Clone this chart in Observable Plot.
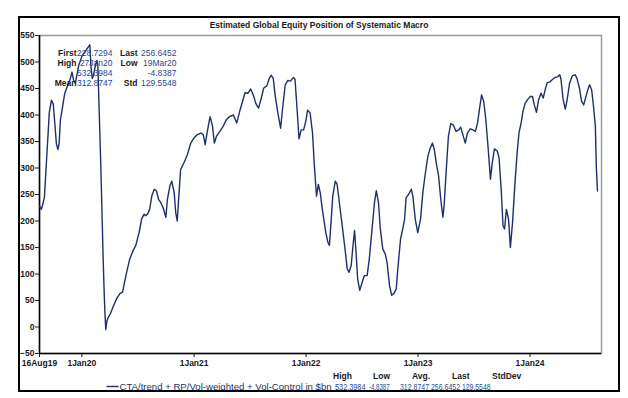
<!DOCTYPE html>
<html><head><meta charset="utf-8">
<script src="https://cdn.jsdelivr.net/npm/d3@7"></script>
<script src="https://cdn.jsdelivr.net/npm/@observablehq/plot@0.6"></script>
<style>
html,body{margin:0;padding:0;background:#fff;}
#wrap{position:relative;width:628px;height:398px;overflow:hidden;font-family:"Liberation Sans",Arial,sans-serif;}
#wrap svg{position:absolute;left:0;top:0;}
#frame{position:absolute;left:18px;top:16px;width:602px;height:376px;border:2px solid #000;box-sizing:border-box;pointer-events:none;}
</style>
</head><body>
<div id="wrap"><div id="frame"></div></div>
<script>
const title = "Estimated Global Equity Position of Systematic Macro";
const seriesName = "CTA/trend + RP/Vol-weighted + Vol-Control in $bn";

const dates = [
"2019-08-16","2019-08-22","2019-08-27","2019-09-01","2019-09-08","2019-09-17","2019-09-24","2019-09-30","2019-10-05","2019-10-10",
"2019-10-15","2019-10-19","2019-10-23","2019-10-30","2019-11-06","2019-11-14","2019-11-23","2019-11-30","2019-12-05","2019-12-11",
"2019-12-22","2020-01-02","2020-01-13","2020-01-27","2020-01-31","2020-02-04","2020-02-08","2020-02-13","2020-02-19","2020-02-22",
"2020-02-24","2020-02-28","2020-03-03","2020-03-07","2020-03-10","2020-03-13","2020-03-16","2020-03-19","2020-03-23","2020-03-27",
"2020-04-03","2020-04-12","2020-04-23","2020-05-04","2020-05-13","2020-05-17","2020-05-26","2020-06-05","2020-06-16","2020-06-25",
"2020-07-06","2020-07-14","2020-07-22","2020-07-27","2020-08-02","2020-08-09","2020-08-16","2020-08-24","2020-08-31","2020-09-07",
"2020-09-14","2020-09-22","2020-10-01","2020-10-06","2020-10-14","2020-10-20","2020-10-28","2020-11-02","2020-11-07","2020-11-13",
"2020-11-18","2020-11-29","2020-12-10","2020-12-21","2021-01-01","2021-01-12","2021-01-23","2021-01-31","2021-02-06","2021-02-14",
"2021-02-22","2021-03-02","2021-03-08","2021-03-15","2021-03-26","2021-04-06","2021-04-16","2021-04-27","2021-05-09","2021-05-20",
"2021-05-31","2021-06-11","2021-06-16","2021-06-25","2021-07-04","2021-07-13","2021-07-21","2021-07-30","2021-08-08","2021-08-16",
"2021-08-26","2021-09-03","2021-09-09","2021-09-16","2021-09-22","2021-10-01","2021-10-10","2021-10-16","2021-10-25","2021-11-02",
"2021-11-11","2021-11-21","2021-11-26","2021-12-02","2021-12-09","2021-12-16","2021-12-24","2021-12-31","2022-01-06","2022-01-14",
"2022-01-22","2022-01-28","2022-02-04","2022-02-10","2022-02-16","2022-02-23","2022-03-06","2022-03-13","2022-03-18","2022-03-24",
"2022-03-29","2022-04-06","2022-04-12","2022-04-20","2022-04-30","2022-05-08","2022-05-15","2022-05-21","2022-05-28","2022-06-03",
"2022-06-08","2022-06-13","2022-06-18","2022-06-25","2022-07-01","2022-07-10","2022-07-19","2022-07-26","2022-08-03","2022-08-12",
"2022-08-18","2022-08-25","2022-08-31","2022-09-08","2022-09-16","2022-09-22","2022-09-30","2022-10-07","2022-10-14","2022-10-22",
"2022-10-27","2022-11-05","2022-11-12","2022-11-18","2022-11-23","2022-12-01","2022-12-10","2022-12-15","2022-12-23","2022-12-31",
"2023-01-09","2023-01-17","2023-01-25","2023-02-02","2023-02-10","2023-02-17","2023-02-23","2023-03-02","2023-03-09","2023-03-16",
"2023-03-23","2023-03-27","2023-04-03","2023-04-10","2023-04-18","2023-04-26","2023-05-05","2023-05-14","2023-05-20","2023-05-27",
"2023-06-04","2023-06-11","2023-06-20","2023-06-29","2023-07-07","2023-07-14","2023-07-20","2023-07-27","2023-08-03","2023-08-10",
"2023-08-17","2023-08-25","2023-08-31","2023-09-07","2023-09-16","2023-09-22","2023-09-29","2023-10-05","2023-10-10","2023-10-16",
"2023-10-23","2023-10-29","2023-11-05","2023-11-13","2023-11-20","2023-11-26","2023-12-03","2023-12-09","2023-12-16","2023-12-24",
"2024-01-02","2024-01-09","2024-01-15","2024-01-22","2024-01-29","2024-02-06","2024-02-13","2024-02-19","2024-02-26","2024-03-05",
"2024-03-14","2024-03-23","2024-03-31","2024-04-07","2024-04-11","2024-04-18","2024-04-25","2024-05-01","2024-05-09","2024-05-18",
"2024-05-27","2024-06-02","2024-06-10","2024-06-17","2024-06-24","2024-06-30","2024-07-07","2024-07-13","2024-07-20","2024-07-26",
"2024-08-01","2024-08-04","2024-08-06","2024-08-08"
];
const values = [
228.7,222,232,245,315,405,428,420,384,346,
335,346,390,415,440,453,466,481,466,460,
494,512,521,532.4,490,469,475,490,503,495,
460,380,300,210,140,80,30,-4.8,12,18,
25,38,53,63,66,78,103,128,144,154,
179,204,213,210,213,222,247,260,257,241,
235,225,207,241,266,275,254,216,200,254,
297,310,325,347,357,363,366,363,344,372,
397,379,347,360,369,379,391,397,400,385,
410,432,442,441,449,438,422,413,432,451,
455,469,475,469,438,404,375,410,457,465,
464,471,467,416,355,372,372,388,409,404,
366,304,247,269,254,222,179,160,154,203,
247,275,270,232,185,147,110,103,116,154,
182,141,91,69,81,97,97,128,178,235,
257,235,185,147,138,122,78,60,63,72,
110,166,185,203,244,250,260,247,203,178,
203,256,291,322,338,347,335,307,285,241,
207,229,297,360,384,381,369,372,377,363,
347,366,374,372,369,385,410,438,426,391,
341,279,310,336,332,319,260,191,185,222,
203,150,197,272,329,366,385,407,422,429,
435,435,419,405,429,441,432,447,461,462,
467,471,472,476,467,429,411,429,460,474,
476,469,451,426,419,432,447,457,447,416,
379,304,279,256.6
];

const xStart = "2019-08-16", xEnd = "2024-08-21";
const xTicks = ["2019-08-16","2020-01-01","2021-01-01","2022-01-01","2023-01-01","2024-01-01"];
const xTickLabels = ["16Aug19","1Jan20","1Jan21","1Jan22","1Jan23","1Jan24"];
const yTicks = [-50,0,50,100,150,200,250,300,350,400,450,500,550];

const statsLeftLabels = ["First","High","","Mean"];
const statsLeftValues = ["228.7294","27Jan20","532.3984","312.8747"];
const statsRightLabels = ["Last","Low","","Std"];
const statsRightValues = ["256.6452","19Mar20","-4.8387","129.5548"];

const legendHeaders = ["High","Low","Avg.","Last","StdDev"];
const legendValues = ["532.3984","-4.8387","312.8747","256.6452","129.5548"];

const lineColor = "#1e2f6c";
const valueColor = "#2c4794";
const textColor = "#1a1a1a";

const data = dates.map((d, i) => ({date: new Date(d), value: values[i]}));
const labelByTime = new Map(xTicks.map((d, i) => [+new Date(d), xTickLabels[i]]));

const chart = Plot.plot({
  width: 628, height: 398,
  marginLeft: 39, marginRight: 27, marginTop: 35, marginBottom: 45,
  style: {fontFamily: "'Liberation Sans', Arial, sans-serif", fontSize: "8.5px", fontWeight: "bold", color: textColor, background: "transparent", overflow: "visible"},
  x: {type: "utc", domain: [new Date(xStart), new Date(xEnd)], ticks: xTicks.map(d => new Date(d)), tickFormat: d => labelByTime.get(+d), tickSize: 4, tickPadding: 2.5, label: null},
  y: {domain: [-50, 550], ticks: yTicks, tickSize: 4, tickPadding: 1, label: null},
  marks: [
    Plot.frame({stroke: "#9a9a9a", strokeWidth: 1.5}),
    Plot.ruleX([new Date(xStart)], {stroke: "#000", strokeWidth: 1.5}),
    Plot.ruleY([-50], {stroke: "#000", strokeWidth: 1.5}),
    Plot.lineY(data, {x: "date", y: "value", stroke: lineColor, strokeWidth: 1.4})
  ]
});

const wrap = document.getElementById("wrap");
wrap.insertBefore(chart, wrap.firstChild);

const g = d3.select(chart).append("g")
  .attr("font-family", "'Liberation Sans', Arial, sans-serif")
  .attr("font-size", "8.5px")
  .attr("text-anchor", "start");

// title
g.append("text").attr("x", 319).attr("y", 27.5).attr("text-anchor", "middle")
  .attr("font-weight", "bold").attr("fill", textColor).text(title);

// stats box
const rowY = [55.5, 65.7, 75.9, 86.1];
rowY.forEach((y, i) => {
  g.append("text").attr("x", 76.5).attr("y", y).attr("text-anchor", "end").attr("font-weight", "bold").attr("fill", textColor).text(statsLeftLabels[i]);
  g.append("text").attr("x", 112.5).attr("y", y).attr("text-anchor", "end").attr("font-weight", "normal").attr("fill", valueColor).text(statsLeftValues[i]);
  g.append("text").attr("x", 137.5).attr("y", y).attr("text-anchor", "end").attr("font-weight", "bold").attr("fill", textColor).text(statsRightLabels[i]);
  g.append("text").attr("x", 176.5).attr("y", y).attr("text-anchor", "end").attr("font-weight", "normal").attr("fill", valueColor).text(statsRightValues[i]);
});

// legend
g.append("line").attr("x1", 106.5).attr("x2", 118.5).attr("y1", 386.5).attr("y2", 386.5).attr("stroke", lineColor).attr("stroke-width", 1.4);
g.append("text").attr("x", 119.5).attr("y", 389.5).attr("text-anchor", "start").attr("font-size", "9.6px").attr("font-weight", "normal").attr("fill", lineColor).text(seriesName);
const headerX = [333, 373, 412, 452, 492];
const valueStartX = [335, 369, 400, 431, 462];
const valueWidth = [30.5, 20.5, 29, 29, 28.5];
legendHeaders.forEach((h, i) => {
  g.append("text").attr("x", headerX[i]).attr("y", 379.2).attr("text-anchor", "start").attr("font-weight", "bold").attr("fill", textColor).text(h);
  g.append("text").attr("x", valueStartX[i]).attr("y", 389.5).attr("text-anchor", "start").attr("font-size", "8.2px").attr("font-weight", "normal")
    .attr("textLength", valueWidth[i]).attr("lengthAdjust", "spacingAndGlyphs").attr("fill", valueColor).text(legendValues[i]);
});
</script>
</body></html>
